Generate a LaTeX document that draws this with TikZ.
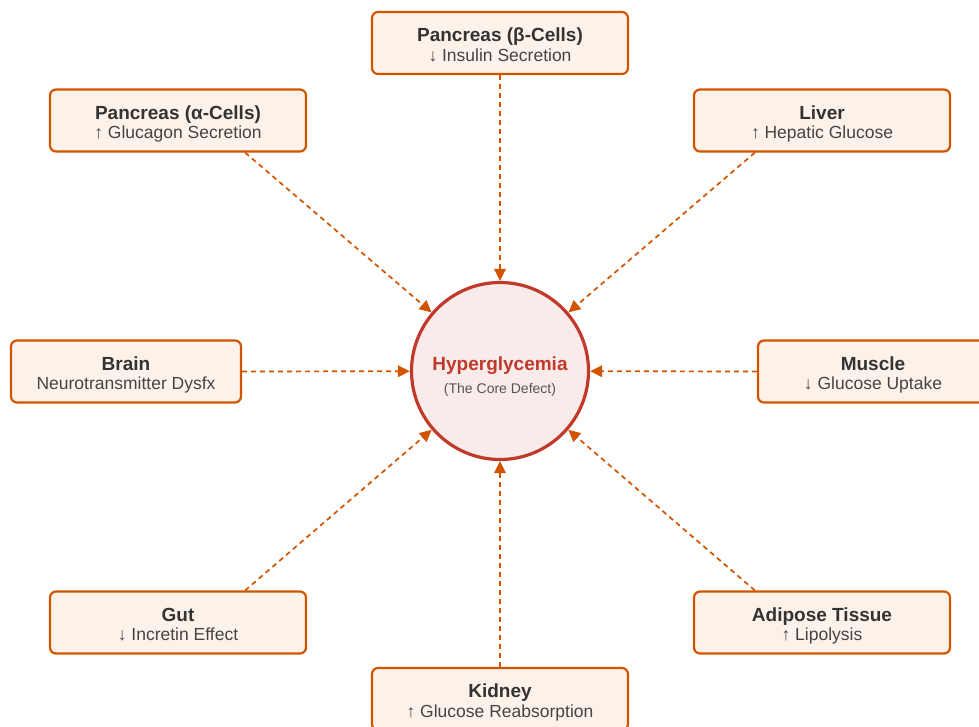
\documentclass[tikz,border=0pt]{standalone}
\usepackage{fontspec}
\setmainfont{Liberation Sans}
\usetikzlibrary{arrows.meta,calc}
\definecolor{boxline}{HTML}{D35400}
\definecolor{boxfill}{HTML}{FDF2E9}
\definecolor{coreline}{HTML}{C0392B}
\definecolor{corefill}{HTML}{F9EBEA}
\definecolor{ttlcol}{HTML}{333333}
\definecolor{subcol}{HTML}{444444}
\definecolor{coresub}{HTML}{555555}
\tikzset{
  organbox/.style={draw=boxline, fill=boxfill, line width=2.2pt, rounded corners=6pt,
    minimum width=256pt, minimum height=62pt, inner sep=0pt},
  ttl/.style={anchor=base, inner sep=0pt, text=ttlcol, font=\fontsize{19}{22}\selectfont\bfseries},
  sub/.style={anchor=base, inner sep=0pt, text=subcol, font=\fontsize{17.5}{20}\selectfont},
  core/.style={circle, draw=coreline, fill=corefill, line width=3.2pt, minimum size=177pt, inner sep=0pt},
  conn/.style={draw=boxline, line width=1.7pt, dash pattern=on 5pt off 4pt,
    -{Triangle[length=12pt,width=11.5pt]}}
}
\newcommand{\organ}[6]{%
  \node[organbox, minimum width=#4] (#1) at (#2,#3) {};
  \node[ttl] (#1-t) at ([yshift=1.3pt]#1.center) {#5};
  \node[sub] (#1-s) at ([yshift=-18pt]#1.center) {#6};
}
\begin{document}
\begin{tikzpicture}[x=1pt,y=-1pt]
\useasboundingbox (0,0) rectangle (979,726);
% core
\node[core] (hc) at (500,371) {};
\node[anchor=base, inner sep=0pt, text=coreline, font=\fontsize{19}{22}\selectfont\bfseries] (hc-t) at ([yshift=1pt]hc.center) {Hyperglycemia};
\node[anchor=base, inner sep=0pt, text=coresub, font=\fontsize{14}{16}\selectfont] (hc-s) at ([yshift=-22pt]hc.center) {(The Core Defect)};
% organs
\organ{pb}{500}{43}{256pt}{Pancreas (β-Cells)}{↓ Insulin Secretion}
\organ{pa}{178}{120.5}{256pt}{Pancreas (α-Cells)}{↑ Glucagon Secretion}
\organ{lv}{822}{120.5}{256pt}{Liver}{↑ Hepatic Glucose}
\organ{br}{126}{371.5}{230pt}{Brain}{Neurotransmitter Dysfx}
\organ{ms}{873}{371.5}{230pt}{Muscle}{↓ Glucose Uptake}
\organ{gt}{178}{622.5}{256pt}{Gut}{↓ Incretin Effect}
\organ{ad}{822}{622.5}{256pt}{Adipose Tissue}{↑ Lipolysis}
\organ{kd}{500}{699}{256pt}{Kidney}{↑ Glucose Reabsorption}
% connector start points
\coordinate (paS) at ($(pa.south west)!0.76!(pa.south east)$);
\coordinate (lvS) at ($(lv.south west)!0.24!(lv.south east)$);
\coordinate (gtS) at ($(gt.north west)!0.76!(gt.north east)$);
\coordinate (adS) at ($(ad.north west)!0.24!(ad.north east)$);
% connectors
\draw[conn] (pb.south) -- (hc);
\draw[conn] (kd.north) -- (hc);
\draw[conn] (br.east) -- (hc);
\draw[conn] (ms.west) -- (hc);
\draw[conn] (paS) -- (hc);
\draw[conn] (lvS) -- (hc);
\draw[conn] (gtS) -- (hc);
\draw[conn] (adS) -- (hc);
\end{tikzpicture}
\end{document}
